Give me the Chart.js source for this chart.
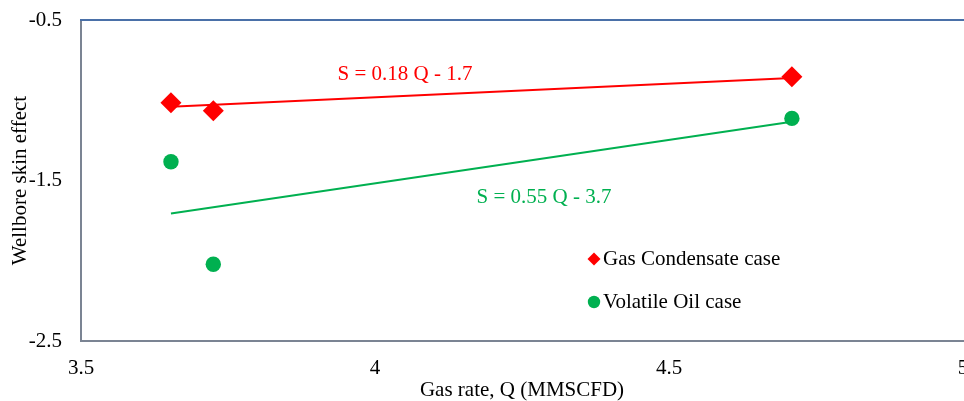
<!DOCTYPE html>
<html>
<head>
<meta charset="utf-8">
<script src="https://cdn.jsdelivr.net/npm/chart.js@4.4.1/dist/chart.umd.min.js"></script>
<style>
  html, body { margin: 0; padding: 0; background: #ffffff; overflow: hidden; }
  #wrap { width: 964px; height: 401px; overflow: hidden; position: relative; }
  canvas { display: block; }
</style>
</head>
<body>
<div id="wrap"><canvas id="c" width="1000" height="401"></canvas></div>
<script>
// ---- Data ----
const gasCondensateQ = [3.653, 3.725, 4.709];
const gasCondensateS = [-1.015, -1.065, -0.853];
const volatileOilQ = [3.653, 3.725, 4.709];
const volatileOilS = [-1.383, -2.022, -1.113];
const gasTrendQ = [3.653, 4.709];
const gasTrendS = [-1.040, -0.862];
const oilTrendQ = [3.653, 4.709];
const oilTrendS = [-1.706, -1.134];
const seriesLabels = ['Gas Condensate case', 'Volatile Oil case'];
const equationLabels = ['S = 0.18 Q - 1.7', 'S = 0.55 Q - 3.7'];
const xTitle = 'Gas rate, Q (MMSCFD)';
const yTitle = 'Wellbore skin effect';

const RED = '#ff0000';
const GREEN = '#00b050';
const FONT = '"Liberation Serif", "Times New Roman", serif';

const toPts = (xs, ys) => xs.map((x, i) => ({ x: x, y: ys[i] }));
const fmt = v => String(Number(v.toFixed(2)));

const framePlugin = {
  id: 'frame',
  afterDraw(chart) {
    const { ctx, chartArea: a } = chart;
    ctx.save();
    // top border (blue)
    ctx.strokeStyle = '#4a70a8';
    ctx.lineWidth = 2;
    ctx.beginPath();
    ctx.moveTo(a.left - 1, a.top);
    ctx.lineTo(chart.width, a.top);
    ctx.stroke();

    // equation labels
    ctx.font = '21px ' + FONT;
    ctx.textAlign = 'center';
    ctx.textBaseline = 'middle';
    ctx.fillStyle = RED;
    ctx.fillText(equationLabels[0], 405, 74);
    ctx.fillStyle = GREEN;
    ctx.fillText(equationLabels[1], 544, 197);

    // legend
    const items = [
      { ds: chart.data.datasets[2], y: 259 },
      { ds: chart.data.datasets[3], y: 302 }
    ];
    const mx = 594;
    items.forEach(it => {
      ctx.fillStyle = it.ds.backgroundColor;
      ctx.beginPath();
      if (it.ds.pointStyle === 'rectRot') {
        const r = 6.5;
        ctx.moveTo(mx - r, it.y);
        ctx.lineTo(mx, it.y - r);
        ctx.lineTo(mx + r, it.y);
        ctx.lineTo(mx, it.y + r);
        ctx.closePath();
      } else {
        ctx.arc(mx, it.y, 6.2, 0, Math.PI * 2);
      }
      ctx.fill();
      ctx.fillStyle = '#000000';
      ctx.textAlign = 'left';
      ctx.textBaseline = 'middle';
      ctx.fillText(it.ds.label, 603, it.y);
    });
    ctx.restore();
  }
};

new Chart(document.getElementById('c'), {
  type: 'scatter',
  data: {
    datasets: [
      {
        label: 'gas trend', type: 'line', data: toPts(gasTrendQ, gasTrendS),
        borderColor: RED, borderWidth: 2, pointRadius: 0, fill: false, order: 3
      },
      {
        label: 'oil trend', type: 'line', data: toPts(oilTrendQ, oilTrendS),
        borderColor: GREEN, borderWidth: 2, pointRadius: 0, fill: false, order: 3
      },
      {
        label: seriesLabels[0], data: toPts(gasCondensateQ, gasCondensateS),
        pointStyle: 'rectRot', pointRadius: 10.5, pointHoverRadius: 10.5,
        backgroundColor: RED, borderColor: RED, borderWidth: 0, order: 1
      },
      {
        label: seriesLabels[1], data: toPts(volatileOilQ, volatileOilS),
        pointStyle: 'circle', pointRadius: 7.7, pointHoverRadius: 7.7,
        backgroundColor: GREEN, borderColor: GREEN, borderWidth: 0, order: 1
      }
    ]
  },
  options: {
    responsive: false,
    animation: false,
    devicePixelRatio: 1,
    layout: { padding: { top: 20, right: 37, left: 0, bottom: 0 } },
    plugins: { legend: { display: false }, tooltip: { enabled: false } },
    scales: {
      x: {
        type: 'linear', min: 3.5, max: 5,
        grid: { display: false, drawTicks: false },
        border: { display: true, color: '#7b8493', width: 2 },
        ticks: { stepSize: 0.5, padding: 15, color: '#000000', font: { family: FONT, size: 21 }, maxRotation: 0, callback: v => fmt(v) },
        title: { display: true, text: xTitle, color: '#000000', font: { family: FONT, size: 21, lineHeight: 1 }, padding: 0 },
        afterFit(scale) { scale.height = 60; scale.paddingLeft = 0; scale.paddingRight = 0; }
      },
      y: {
        type: 'linear', min: -2.5, max: -0.5,
        grid: { display: false, drawTicks: false },
        border: { display: true, color: '#7b8493', width: 2 },
        ticks: { stepSize: 1, padding: 19, color: '#000000', font: { family: FONT, size: 21 }, callback: v => fmt(v) },
        title: { display: true, text: yTitle, color: '#000000', font: { family: FONT, size: 21, lineHeight: 1 }, padding: { top: 10, bottom: 0 } },
        afterFit(scale) { scale.width = 81; scale.paddingTop = 0; scale.paddingBottom = 0; }
      }
    }
  },
  plugins: [framePlugin]
});
</script>
</body>
</html>
